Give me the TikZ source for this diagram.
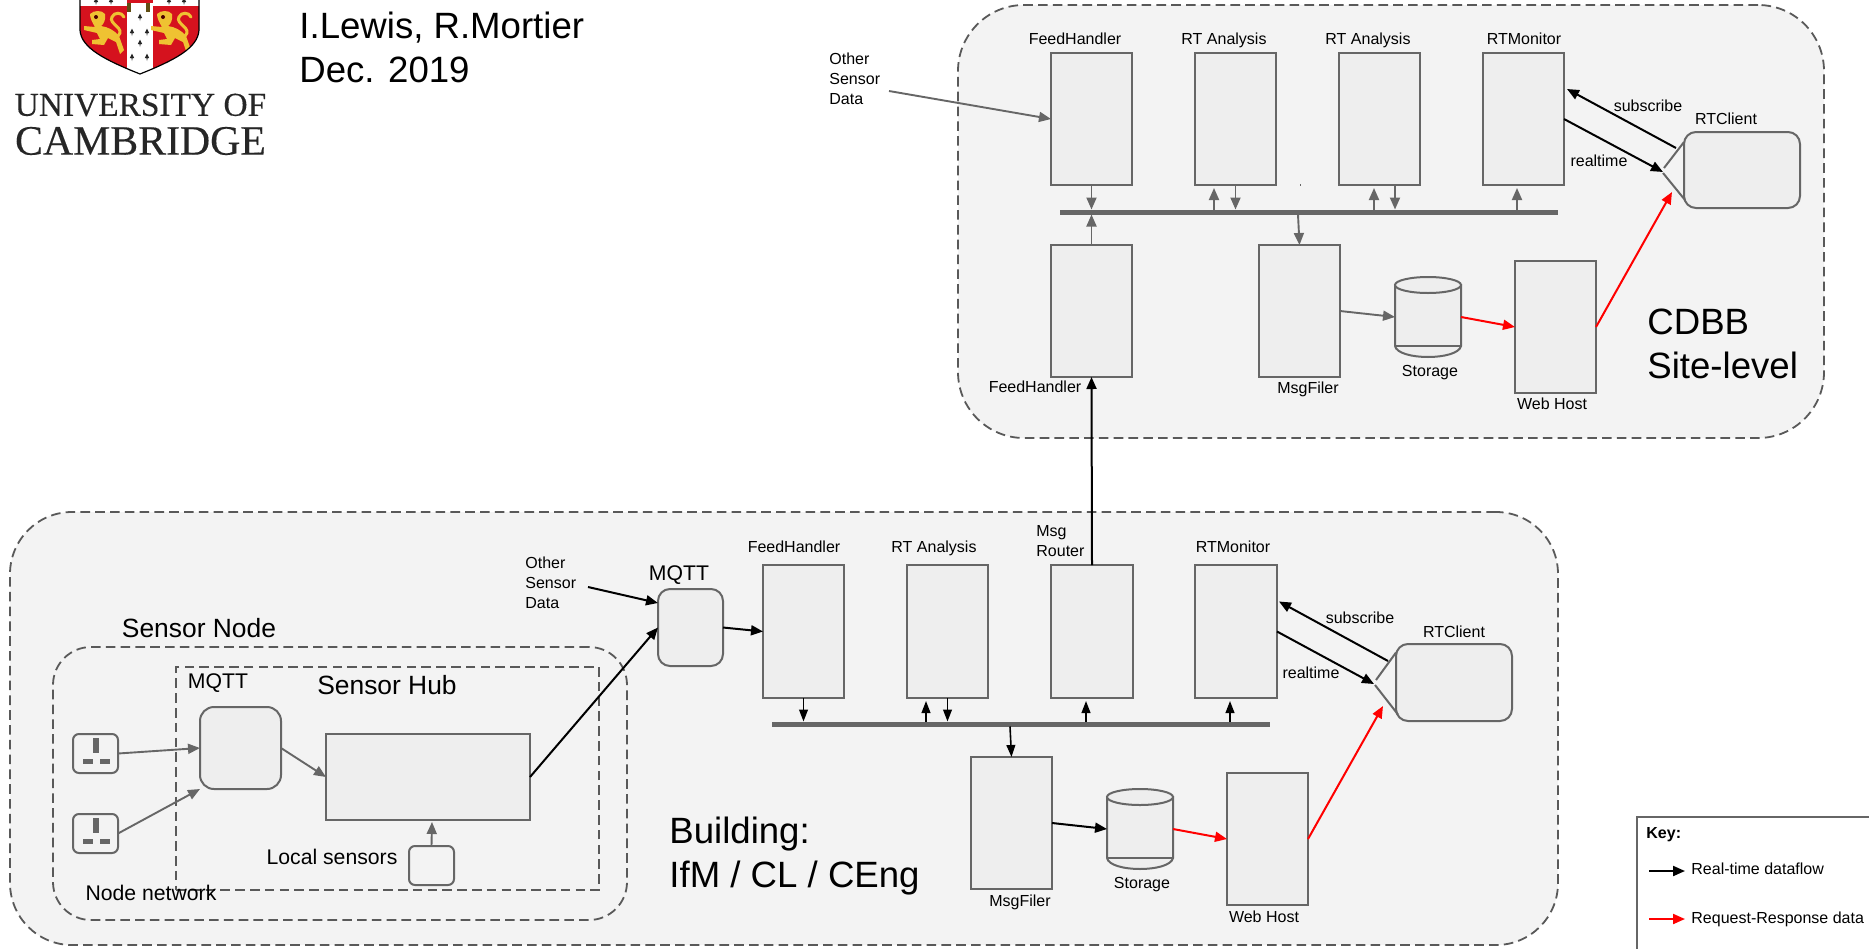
\documentclass[tikz,border=0pt]{standalone}
\usepackage{fontspec}
\setmainfont{Liberation Sans}
\newfontfamily\logofont[FakeBold=0.25]{Liberation Serif}
\usetikzlibrary{arrows.meta,calc}
\definecolor{zonefill}{HTML}{F3F3F3}
\definecolor{boxfill}{HTML}{EEEEEE}
\definecolor{linegray}{HTML}{666666}
\definecolor{dashgray}{HTML}{595959}
\definecolor{crest}{HTML}{D5121E}
\definecolor{gold}{HTML}{EFC232}
\tikzset{
  zone/.style={draw=dashgray,fill=zonefill,line width=.9pt,dash pattern=on 4.8pt off 2.6pt,inner sep=0,outer sep=0},
  inzone/.style={draw=dashgray,line width=.9pt,dash pattern=on 4.8pt off 2.6pt,inner sep=0,outer sep=0},
  procbox/.style={draw=linegray,fill=boxfill,line width=1pt,inner sep=0,outer sep=0},
  plainbox/.style={inner sep=0,outer sep=0},
  busbar/.style={fill=linegray,inner sep=0,outer sep=0},
  keybox/.style={draw=linegray,fill=white,line width=1pt,inner sep=0,outer sep=0},
  grayarrow/.style={draw=linegray,line width=.95pt,-{Triangle[length=6pt,width=5pt]}},
  blackarrow/.style={draw=black,line width=1pt,-{Triangle[length=6pt,width=5pt]}},
  thinarrow/.style={draw=black,line width=.8pt,-{Triangle[length=6pt,width=4.4pt]}},
  redarrow/.style={draw=red,line width=1pt,-{Triangle[length=6pt,width=5pt]}},
  callout/.style={draw=linegray,line width=1pt},
  lbl/.style={font=\fontsize{8}{10}\selectfont,inner sep=0,text height=6pt,text depth=.3pt},
  lblml/.style={font=\fontsize{8}{10}\selectfont,inner sep=0,align=left},
  lblm/.style={font=\fontsize{10.6}{12}\selectfont,inner sep=0,text height=7.6pt,text depth=.3pt},
  lblc/.style={font=\fontsize{13.2}{16}\selectfont,inner sep=0,text height=9.5pt,text depth=.3pt},
  lbll/.style={font=\fontsize{18.3}{22}\selectfont,inner sep=0,align=left},
  logotext/.style={inner sep=0,text=black!85},
}
\newcommand\pxbox[6]{%
  \pgfmathsetmacro\pxw{(#5-#3)*0.5}%
  \pgfmathsetmacro\pxh{(#6-#4)*0.5}%
  \node[#1,minimum width=\pxw pt,minimum height=\pxh pt] (#2) at ({(#3+#5)/2},{(#4+#6)/2}) {};}
% name, x1, x2, top, bottom line, bottom end
\newcommand\cyl[6]{%
  \pxbox{plainbox}{#1}{#2}{#4}{#3}{#6}%
  \pgfmathsetmacro\cmid{(#2+#3)/2}%
  \pgfmathsetmacro\crx{(#3-#2)/2}%
  \pgfmathsetmacro\ctop{#4+8}%
  \pgfmathsetmacro\cctl{#6+(#6-#5)/3}%
  \pgfmathsetmacro\cea{#2+3}%
  \pgfmathsetmacro\ceb{#3-3}%
  \draw[procbox] (#2,\ctop) -- (#2,#5) .. controls (\cea,\cctl) and (\ceb,\cctl) .. (#3,#5) -- (#3,\ctop) -- cycle;
  \draw[procbox] (\cmid,\ctop) ellipse [x radius=\crx, y radius=8];
  \draw[draw=linegray,line width=1pt] (#2,#5) -- (#3,#5);}
\newcommand\sock[3]{%
  \pxbox{procbox,fill=zonefill,rounded corners=3pt}{#1}{73}{#2}{118}{#3}%
  \pgfmathsetmacro\sa{#2+4}\pgfmathsetmacro\sb{#2+19}\pgfmathsetmacro\sc{#2+25}\pgfmathsetmacro\sd{#2+30}%
  \fill[linegray] (93,\sa) rectangle (99,\sb);
  \fill[linegray] (83,\sc) rectangle (93,\sd);
  \fill[linegray] (100,\sc) rectangle (110,\sd);}
\newcommand\erm[2]{\fill[black!85] (#1,#2-3.5) -- (#1+2.2,#2+1) -- (#1+.6,#2+1) -- (#1,#2+4) -- (#1-.6,#2+1) -- (#1-2.2,#2+1) -- cycle;}
\newcommand\lion{%
  \fill[gold] (90,14) .. controls (94,10) and (102,10) .. (105,14) .. controls (106,19) and (104,24) .. (101,26)
     .. controls (108,27) and (114,30) .. (119,36) -- (124,50) -- (120,54) -- (116,42) -- (108,38) -- (104,45) -- (92,44) -- (92,40) -- (100,39) -- (97,33) -- (84,30) -- (84,26) -- (95,27) .. controls (92,22) and (90,18) .. (90,14) -- cycle;
  \draw[gold,line width=1.5pt,line cap=round] (118,36) .. controls (126,28) and (108,24) .. (112,17) .. controls (114,12) and (122,12) .. (124,17);
  \fill[black!70!red] (96,17) circle [radius=2];}
% name of a point on a box's lower side, and an upward arrow from the bus to it
\newcommand\upfrombus[4]{% style, box, dx, bus
  \coordinate (upend) at ($(#2.south)+(#3,3)$);
  \draw[#1] (upend |- #4.north) -- (upend);}
\begin{document}
\begin{tikzpicture}[x=.5pt,y=-.5pt]
\useasboundingbox (0,0) rectangle (1869,948);
\clip (0,0) rectangle (1869,948);
% ---------- crest
\begin{scope}
  \clip (80,-2) -- (199,-2) -- (199,30) .. controls (198,48) and (175,60) .. (140,74) .. controls (105,60) and (81,48) .. (80,30) -- cycle;
  \fill[white] (78,-2) rectangle (201,76);
  \fill[crest] (78,6) rectangle (127,76);
  \fill[crest] (153,6) rectangle (201,76);
  \fill[crest] (127,-2) rectangle (153,3);
  \fill[black!60!gold] (127,3) rectangle (131,12);
  \fill[black!60!gold] (146,3) rectangle (150,12);
  \lion
  \begin{scope}[shift={(67,0)}]\lion\end{scope}
  \erm{140}{17}\erm{132}{32}\erm{147}{32}\erm{140}{43}\erm{132}{57}\erm{147}{57}
  \erm{96}{1}\erm{111}{1}\erm{169}{1}\erm{184}{1}
\end{scope}
\draw[black,line width=.6pt] (199,-2) -- (199,30) .. controls (198,48) and (175,60) .. (140,74) .. controls (105,60) and (81,48) .. (80,30) -- (80,-2);
\node[logotext,font=\logofont\fontsize{16.7}{20}\selectfont] (logoa) at (140.5,105) {UNIVERSITY OF};
\node[logotext,font=\logofont\fontsize{20.9}{24}\selectfont] (logob) at (140.5,141) {CAMBRIDGE};
\node[lbll,anchor=west] (authors) at (299,47) {I.Lewis, R.Mortier\\Dec. 2019};
% ---------- zones
\pxbox{zone,rounded corners=33pt}{sitezone}{958}{5}{1824}{438}
\pxbox{zone,rounded corners=31pt}{bldzone}{10}{512}{1558}{945}
\pxbox{inzone,rounded corners=19pt}{nodezone}{53}{647}{627}{920}
\pxbox{inzone}{hubzone}{176}{667}{599}{890}
% ---------- site level
\pxbox{procbox}{tfh}{1051}{53}{1132}{185}
\pxbox{procbox}{trta}{1195}{53}{1276}{185}
\pxbox{procbox}{trtb}{1339}{53}{1420}{185}
\pxbox{procbox}{tmon}{1483}{53}{1564}{185}
\pxbox{busbar}{tbus}{1060}{209.5}{1558}{214.5}
\pxbox{procbox}{tfhb}{1051}{245}{1132}{377}
\pxbox{procbox}{tfil}{1259}{245}{1340}{377}
\cyl{tsto}{1395}{1461}{277}{346}{357}
\pxbox{procbox}{tweb}{1515}{261}{1596}{393}
\pxbox{procbox,rounded corners=6pt}{tcli}{1684}{132}{1800}{208}
\fill[linegray] (1299.5,184) rectangle (1300.5,186);
\draw[callout] ($(tcli.west)+(-20,-2)$) -- ($(tcli.west)+(0,-28)$);
\draw[callout] ($(tcli.west)+(-21,3)$) -- ($(tcli.west)+(1,30)$);
\node[lblml,anchor=west] (tother) at (829,79) {Other\\Sensor\\Data};
\coordinate (totherend) at (889,91);
\draw[grayarrow] (totherend) -- (tfh.west);
\draw[grayarrow] (tfh.south) -- (tfh.south |- tbus.north);
\draw[grayarrow] (tfhb.north) -- (tfhb.north |- tbus.south);
\upfrombus{grayarrow}{trta}{-21.5}{tbus}
\draw[grayarrow] (trta.south) -- (trta.south |- tbus.north);
\upfrombus{grayarrow}{trtb}{-5.5}{tbus}
\coordinate (trtbdown) at ($(trtb.south)+(15.5,0)$);
\draw[grayarrow] (trtbdown) -- (trtbdown |- tbus.north);
\upfrombus{grayarrow}{tmon}{-6.5}{tbus}
\coordinate (tfilup) at ($(tfil.north)+(-1.5,0)$);
\draw[grayarrow] (tfilup |- tbus.south) -- (tfil.north);
\draw[grayarrow] (tfil.east) -- (tsto.west);
\draw[redarrow] (tsto.east) -- (tweb.west);
\draw[redarrow] (tweb.east) -- ($(tcli.west)+(-12,22)$);
\draw[blackarrow] ($(tcli.west)+(-8,-22)$) -- ($(tmon.east)+(3,-30)$);
\draw[blackarrow] (tmon.east) -- ($(tcli.west)+(-21,2)$);
\node[lbl] (l1) at (1075,39) {FeedHandler};
\node[lbl] (l2) at (1224,39) {RT Analysis};
\node[lbl] (l3) at (1368,39) {RT Analysis};
\node[lbl] (l4) at (1524,39) {RTMonitor};
\node[lbl] (l5) at (1648,106) {subscribe};
\node[lbl] (l6) at (1726,119) {RTClient};
\node[lbl] (l7) at (1599,161) {realtime};
\node[lbl] (l8) at (1035,387) {FeedHandler};
\node[lbl] (l9) at (1308,388) {MsgFiler};
\node[lbl] (l10) at (1430,371) {Storage};
\node[lbl] (l11) at (1552,404) {Web Host};
\node[lbll,anchor=west] (l12) at (1647,344) {CDBB\\Site-level};
% ---------- building
\pxbox{procbox,rounded corners=6pt}{bmq}{658}{589}{723}{666}
\pxbox{procbox}{bfh}{763}{565}{844}{698}
\pxbox{procbox}{brt}{907}{565}{988}{698}
\pxbox{procbox}{brouter}{1051}{565}{1133}{698}
\pxbox{procbox}{bmon}{1195}{565}{1277}{698}
\pxbox{busbar}{bbus}{772}{721.5}{1270}{726.5}
\pxbox{procbox}{bfil}{971}{757}{1052}{889}
\cyl{bsto}{1107}{1173}{789}{858}{869}
\pxbox{procbox}{bweb}{1227}{773}{1308}{905}
\pxbox{procbox,rounded corners=6pt}{bcli}{1396}{644}{1512}{721}
\draw[callout] ($(bcli.west)+(-20,-2.5)$) -- ($(bcli.west)+(0,-30)$);
\draw[callout] ($(bcli.west)+(-21,2.5)$) -- ($(bcli.west)+(2,32)$);
% sensor node
\sock{sa}{734}{773}
\sock{sb}{814}{853}
\pxbox{procbox,rounded corners=7pt}{nmq}{200}{707}{281}{789}
\pxbox{procbox}{hub}{326}{734}{530}{820}
\pxbox{procbox,fill=zonefill,rounded corners=3pt}{loc}{409}{846}{454}{885}
\draw[grayarrow] (sa.east) -- (nmq.west);
\draw[grayarrow] (sb.east) -- (nmq.south west);
\draw[grayarrow] (nmq.east) -- (hub.west);
\draw[grayarrow] (loc.north) -- ($(hub.south)+(4,2)$);
\draw[blackarrow] (hub.east) -- (bmq.west);
\node[lblml,anchor=west] (bother) at (525,583) {Other\\Sensor\\Data};
\coordinate (botherend) at (588,587);
\draw[blackarrow] (botherend) -- ($(bmq.west)+(0,-24.5)$);
\draw[blackarrow] (bmq.east) -- (bfh.west);
\draw[thinarrow] (bfh.south) -- (bfh.south |- bbus.north);
\upfrombus{thinarrow}{brt}{-21.5}{bbus}
\draw[thinarrow] (brt.south) -- (brt.south |- bbus.north);
\upfrombus{thinarrow}{brouter}{-6}{bbus}
\upfrombus{thinarrow}{bmon}{-6}{bbus}
\coordinate (bfilup) at ($(bfil.north)+(-1.5,0)$);
\draw[thinarrow] (bfilup |- bbus.south) -- (bfil.north);
\draw[blackarrow] (bfil.east) -- (bsto.west);
\draw[redarrow] (bsto.east) -- (bweb.west);
\draw[redarrow] (bweb.east) -- ($(bcli.west)+(-13,23.5)$);
\draw[blackarrow] ($(bcli.west)+(-8,-21.5)$) -- ($(bmon.east)+(2,-30)$);
\draw[blackarrow] (bmon.east) -- ($(bcli.west)+(-22,1.5)$);
\draw[blackarrow] (brouter.north) -- (tfhb.south);
\node[lblc] (m1) at (199,628) {Sensor Node};
\node[lblm] (m2) at (218,681) {MQTT};
\node[lblc] (m3) at (387,685) {Sensor Hub};
\node[lblm] (m4) at (332,857) {Local sensors};
\node[lblm] (m5) at (151,893) {Node network};
\node[lblm] (m6) at (679,573) {MQTT};
\node[lbl] (b1) at (794,547) {FeedHandler};
\node[lbl] (b2) at (934,547) {RT Analysis};
\node[lblml,anchor=west] (b3) at (1036,541) {Msg\\Router};
\node[lbl] (b4) at (1233,547) {RTMonitor};
\node[lbl] (b5) at (1360,618) {subscribe};
\node[lbl] (b6) at (1454,632) {RTClient};
\node[lbl] (b7) at (1311,673) {realtime};
\node[lbl] (b8) at (1020,901) {MsgFiler};
\node[lbl] (b9) at (1142,883) {Storage};
\node[lbl] (b10) at (1264,917) {Web Host};
\node[lbll,anchor=west] (b11) at (669,856) {Building:\\IfM / CL / CEng};
% ---------- key
\pxbox{keybox}{key}{1637}{817}{1885}{965}
\node[lblml,anchor=west,font=\fontsize{8}{10}\selectfont\bfseries] (k0) at (1646,835) {Key:};
\node[lbl,anchor=west] (k1) at (1691,869) {Real-time dataflow};
\node[lbl,anchor=west] (k2) at (1691,918) {Request-Response data};
\coordinate (ka) at (1649,871);
\coordinate (kb) at (1649,919);
\coordinate (kae) at ($(k1.west |- ka)+(-6,0)$);
\coordinate (kbe) at ($(k2.west |- kb)+(-6,0)$);
\draw[blackarrow] (ka) -- (kae);
\draw[redarrow] (kb) -- (kbe);
\end{tikzpicture}
\end{document}
